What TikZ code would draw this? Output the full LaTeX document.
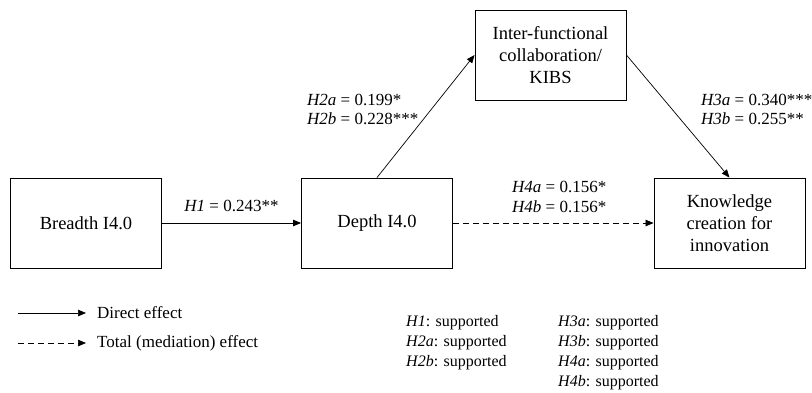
\documentclass[tikz,border=0pt]{standalone}
\usepackage{fontspec}
\setmainfont{Liberation Serif}
\usetikzlibrary{arrows.meta}
\tikzset{
  varbox/.style={draw, line width=0.9pt, minimum width=151pt, minimum height=90pt,
    align=center, inner sep=0pt, font=\fontsize{18.5}{22}\selectfont},
  effect/.style={line width=0.7pt, -{Triangle[length=8pt,width=6.5pt]}},
  total/.style={effect, dash pattern=on 6pt off 4pt},
  coef/.style={align=left, inner sep=0pt, font=\fontsize{17}{19.5}\selectfont},
  legtext/.style={anchor=west, inner sep=0pt, font=\fontsize{17}{20}\selectfont},
  verdict/.style={anchor=west, inner sep=0pt, font=\fontsize{16}{20}\selectfont},
}
\begin{document}
\begin{tikzpicture}[x=1pt,y=-1pt]
  % bounding box
  \useasboundingbox (0,0) rectangle (812,392);
  % constructs
  \node[varbox] (breadth) at (86,223) {Breadth I4.0};
  \node[varbox] (depth) at (377,223) {Depth I4.0};
  \node[varbox] (ifc) at (550.5,55) {Inter-functional\\collaboration/\\KIBS};
  \node[varbox] (kci) at (729.5,223) {Knowledge\\creation for\\innovation};
  % paths
  \draw[effect] (breadth) -- node[coef, midway, above=11pt] {\textit{H1} = 0.243**} (depth);
  \draw[effect] (depth.north) -- (ifc.west);
  \draw[effect] (ifc.east) -- (kci.north);
  \draw[total] (depth) -- node[coef, midway, above=10pt, xshift=6pt]
    {\textit{H4a} = 0.156*\\\textit{H4b} = 0.156*} (kci);
  \node[coef, anchor=west] (h2) at (307,109.5) {\textit{H2a} = 0.199*\\\textit{H2b} = 0.228***};
  \node[coef, anchor=west] (h3) at (701,109.5) {\textit{H3a} = 0.340***\\\textit{H3b} = 0.255**};
  % legend
  \coordinate (d0) at (18,313);
  \coordinate (d1) at (86,313);
  \coordinate (t0) at (18,343);
  \coordinate (t1) at (86,343);
  \draw[effect] (d0) -- (d1);
  \draw[total] (t0) -- (t1);
  \node[legtext] (direct) at (97,313) {Direct effect};
  \node[legtext] (mediation) at (97,343) {Total (mediation) effect};
  % hypotheses
  \foreach \h/\y in {1/323,2a/343,2b/363}{
    \node[verdict] (sup\h) at (406,\y) {\textit{H\h}: supported};
  }
  \foreach \h/\y in {3a/323,3b/343,4a/363,4b/383}{
    \node[verdict] (sup\h) at (558,\y) {\textit{H\h}: supported};
  }
\end{tikzpicture}
\end{document}
